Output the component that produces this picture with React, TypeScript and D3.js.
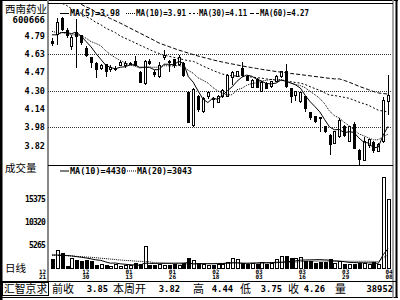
import React from "react";
import * as d3 from "d3";

// ---------- data ----------
const stockName = "西南药业";
const stockCode = "600666";
const volTitle = "成交量";
const periodLabel = "日线";
const brand = "汇智京求";

const opens = [4.745, 4.807, 4.94, 4.84, 4.70, 4.82, 4.79, 4.683, 4.595, 4.55,
  4.50, 4.533, 4.49, 4.49, 4.53, 4.525, 4.545, 4.56, 4.47, 4.37,
  4.56, 4.47, 4.435, 4.595, 4.56, 4.577, 4.533, 4.55, 4.285, 3.993,
  4.252, 4.125, 4.25, 4.24, 4.205, 4.25, 4.258, 4.418, 4.435, 4.50,
  4.43, 4.338, 4.408, 4.302, 4.37, 4.34, 4.39, 4.427, 4.471, 4.329,
  4.267, 4.214, 4.252, 4.108, 4.073, 4.064, 3.988, 3.913, 3.834, 3.90,
  3.988, 3.854, 4.002, 3.78, 3.692, 3.82, 3.85, 3.77, 3.86, 4.21];
const highs = [4.77, 4.95, 4.96, 4.86, 4.80, 4.94, 4.80, 4.70, 4.60, 4.56,
  4.54, 4.54, 4.53, 4.52, 4.57, 4.57, 4.56, 4.61, 4.48, 4.58,
  4.59, 4.49, 4.56, 4.665, 4.58, 4.59, 4.62, 4.56, 4.30, 4.33,
  4.27, 4.25, 4.30, 4.25, 4.27, 4.32, 4.45, 4.48, 4.48, 4.56,
  4.44, 4.41, 4.42, 4.39, 4.38, 4.39, 4.44, 4.48, 4.54, 4.33,
  4.30, 4.29, 4.26, 4.11, 4.08, 4.07, 3.99, 3.92, 3.95, 4.06,
  4.00, 3.99, 4.03, 3.79, 3.90, 3.88, 3.86, 3.84, 4.25, 4.44];
const lows = [4.70, 4.71, 4.83, 4.77, 4.665, 4.506, 4.71, 4.60, 4.51, 4.42,
  4.49, 4.43, 4.47, 4.48, 4.52, 4.51, 4.54, 4.52, 4.37, 4.36,
  4.53, 4.43, 4.42, 4.58, 4.47, 4.51, 4.52, 4.43, 4.02, 3.98,
  4.12, 4.11, 4.23, 4.15, 4.195, 4.24, 4.25, 4.36, 4.43, 4.43,
  4.39, 4.33, 4.33, 4.29, 4.32, 4.33, 4.38, 4.42, 4.33, 4.196,
  4.214, 4.20, 4.117, 4.05, 4.02, 3.94, 3.93, 3.737, 3.83, 3.89,
  3.90, 3.85, 3.79, 3.648, 3.68, 3.80, 3.75, 3.76, 3.84, 4.09];
const closes = [4.72, 4.913, 4.85, 4.79, 4.78, 4.785, 4.73, 4.62, 4.555, 4.49,
  4.525, 4.473, 4.51, 4.50, 4.555, 4.55, 4.55, 4.525, 4.38, 4.56,
  4.545, 4.445, 4.53, 4.62, 4.555, 4.524, 4.595, 4.444, 4.028, 4.312,
  4.135, 4.24, 4.285, 4.225, 4.258, 4.31, 4.444, 4.462, 4.471, 4.44,
  4.40, 4.395, 4.338, 4.382, 4.329, 4.385, 4.427, 4.471, 4.34, 4.252,
  4.294, 4.285, 4.15, 4.064, 4.03, 4.06, 3.942, 3.825, 3.94, 4.046,
  3.913, 3.987, 3.796, 3.698, 3.86, 3.87, 3.775, 3.825, 4.22, 4.26];
const volumes = [2000, 4100, 3400, 400, 2200, 1800, 1500, 1700, 1600, 600,
  900, 700, 400, 900, 400, 700, 600, 1200, 900, 5000,
  600, 600, 900, 700, 600, 800, 700, 1200, 2200, 1700,
  1200, 800, 700, 700, 900, 1000, 1300, 2300, 2000, 1200,
  900, 1100, 1000, 1300, 900, 1100, 2000, 2600, 2700, 2200,
  2300, 2400, 1500, 1500, 1200, 1400, 1400, 2000, 1200, 1600,
  1000, 900, 1000, 1200, 1200, 1000, 1300, 950, 20300, 15400];

// moving-average values before the window has enough history
const ma5Lead = [4.80, 4.80, 4.82, 4.82];
const ma10Lead = [4.83, 4.82, 4.82, 4.81, 4.80, 4.80, 4.79, 4.77, 4.74];
const ma30Lead = [5.13, 5.11, 5.08, 5.06, 5.03, 5.01, 4.99, 4.96, 4.94, 4.91,
  4.89, 4.86, 4.84, 4.82, 4.79, 4.77, 4.75, 4.73, 4.71, 4.69,
  4.67, 4.65, 4.635, 4.62, 4.61, 4.60, 4.59, 4.58, 4.57];
const ma60Lead = [null, null, null, null, null, null, 5.07, 5.046, 5.03, 5.00,
  4.984, 4.964, 4.944, 4.924, 4.904, 4.882, 4.86, 4.838, 4.816, 4.794,
  4.772, 4.75, 4.727, 4.711, 4.696, 4.68, 4.665, 4.652, 4.638, 4.625,
  4.612, 4.601, 4.59, 4.579, 4.568, 4.559, 4.55, 4.542, 4.533, 4.525,
  4.517, 4.51, 4.502, 4.495, 4.488, 4.482, 4.475, 4.47, 4.464, 4.458,
  4.453, 4.448, 4.442, 4.437, 4.431, 4.426, 4.42, 4.415, 4.41];
const vma10Lead = [3000, 3000, 2950, 2900, 2800, 2650, 2500, 2350, 2150];
const vma20Lead = [3000, 2950, 2900, 2850, 2800, 2700, 2650, 2550, 2500, 2400,
  2300, 2200, 2100, 2000, 1900, 1800, 1750, 1650, 1600];

const dateLabels = ["12/21", "12/30", "01/13", "01/26", "02/18", "03/03", "03/16", "03/29", "04/08"];
const priceTicks = [4.79, 4.63, 4.47, 4.30, 4.14, 3.98, 3.82];
const priceGrid = [4.63, 4.30, 3.98];
const volTicks = [15375, 10320, 5265];

const priceMaNames = ["MA(5)", "MA(10)", "MA(30)", "MA(60)"];
const priceMaValues = ["3.98", "3.91", "4.11", "4.27"];
const volMaNames = ["MA(10)", "MA(20)"];
const volMaValues = ["4430", "3043"];

const bottomLabels = ["前收", "本周开", "高", "低", "收", "量"];
const bottomValues = ["3.85", "3.82", "4.44", "3.75", "4.26", "38952"];

// ---------- layout / style ----------
const priceDash = ["", "1,1", "2,2", "4,2"];
const volDash = ["", "1,1"];
const priceLegendX = [60, 126, 189, 250];
const priceLegendW = [50, 50, 48, 49];
const volLegendX = [60, 127];
const volLegendW = [56, 55];
const bottomLabelX = [52, 113, 193, 240, 288, 335];
const bottomValueR = [108, 180, 233, 282, 325, 393];

const MONO = "'DejaVu Sans Mono', 'Liberation Mono', monospace";
const CJK = "'Noto Sans CJK SC', 'Noto Sans', sans-serif";

function movingAvg(arr: number[], p: number, lead: (number | null)[]) {
  return arr.map((_, i) =>
    i >= p - 1 ? (d3.mean(arr.slice(i - p + 1, i + 1)) as number) : lead[i] ?? null
  );
}

export default function App() {
  const n = opens.length;
  const x = d3.scaleLinear().domain([0, n - 1]).range([52, 388]);
  const y = d3.scaleLinear().domain([3.82, 4.79]).range([145.54, 35.93]);
  const yv = d3.scaleLinear().domain([0, 15375]).range([268.5, 199.5]);
  const xd = d3.scalePoint<string>().domain(dateLabels).range([42.5, 389]);

  const priceMAs = [
    movingAvg(closes, 5, ma5Lead),
    movingAvg(closes, 10, ma10Lead),
    movingAvg(closes, 30, ma30Lead),
    movingAvg(closes, 60, ma60Lead),
  ];
  const volMAs = [movingAvg(volumes, 10, vma10Lead), movingAvg(volumes, 20, vma20Lead)];

  const pLine = d3
    .line<number | null>()
    .defined((d) => d != null)
    .x((_, i) => x(i))
    .y((d) => y(d as number));
  const vLine = d3
    .line<number | null>()
    .defined((d) => d != null)
    .x((_, i) => x(i))
    .y((d) => yv(d as number));

  const px = (i: number) => Math.round(x(i)) + 0.5;

  return (
    <svg width={400} height={300} style={{ display: "block", position: "absolute", left: 0, top: 0, background: "#fff" }}>
      <defs>
        <clipPath id="pclip">
          <rect x={49} y={4} width={343} height={161} />
        </clipPath>
        <clipPath id="vclip">
          <rect x={49} y={166} width={343} height={103} />
        </clipPath>
      </defs>
      <rect x={0} y={0} width={400} height={300} fill="#fff" />

      {/* frame */}
      <rect x={0} y={0} width={2.5} height={300} fill="#000" />
      <line x1={0} x2={398} y1={0.5} y2={0.5} stroke="#000" />
      <line x1={0} x2={398} y1={297.5} y2={297.5} stroke="#000" />
      <line x1={396.5} x2={396.5} y1={0} y2={298} stroke="#000" strokeWidth={2} />
      <line x1={393} x2={393} y1={0} y2={298} stroke="#888" strokeWidth={1.5} />
      <line x1={48} x2={48} y1={0} y2={281} stroke="#888" strokeWidth={2} />
      <line x1={48} x2={393} y1={3.5} y2={3.5} stroke="#000" />
      <line x1={48} x2={393} y1={165.5} y2={165.5} stroke="#000" />
      <line x1={0} x2={397} y1={281.5} y2={281.5} stroke="#000" />

      {/* left titles */}
      <text x={5} y={12.5} fontFamily={CJK} fontSize={10.5} fill="#000">{stockName}</text>
      <text x={45} y={22.5} fontFamily={MONO} fontWeight="bold" fontSize={9} textAnchor="end" fill="#000">{stockCode}</text>
      <text x={5} y={171.5} fontFamily={CJK} fontSize={10.5} fill="#000">{volTitle}</text>
      <text x={5} y={272} fontFamily={CJK} fontSize={10.5} fill="#000">{periodLabel}</text>

      {/* price grid and ticks */}
      {priceGrid.map((v) => (
        <line key={v} x1={48} x2={392} y1={Math.round(y(v)) + 0.5} y2={Math.round(y(v)) + 0.5} stroke="#333" strokeDasharray="1,1" />
      ))}
      {priceTicks.map((v) => (
        <text key={v} x={45} y={y(v)} dy="0.35em" textAnchor="end" fontFamily={MONO} fontWeight="bold" fontSize={8.5} fill="#000">
          {v.toFixed(2)}
        </text>
      ))}
      {volTicks.map((v) => (
        <text key={v} x={45} y={yv(v)} dy="0.35em" textAnchor="end" fontFamily={MONO} fontWeight="bold" fontSize={8} letterSpacing={-0.8} fill="#000">
          {v}
        </text>
      ))}

      {/* candles */}
      <g shapeRendering="crispEdges">
        {opens.map((o, i) => {
          const c = closes[i];
          const cx = px(i);
          const up = c >= o;
          const yTop = y(Math.max(o, c));
          const yBot = y(Math.min(o, c));
          const bh = Math.max(1, yBot - yTop);
          return (
            <g key={i}>
              <line x1={cx} x2={cx} y1={y(highs[i])} y2={y(lows[i])} stroke="#000" />
              <rect x={cx - 1} y={yTop} width={2} height={bh} fill={up ? "#fff" : "#000"} stroke="#000" />
            </g>
          );
        })}
      </g>

      {/* price MAs */}
      <g clipPath="url(#pclip)" fill="none">
        {priceMAs.map((arr, k) => (
          <path key={k} d={pLine(arr) || ""} stroke="#000" strokeWidth={1} strokeDasharray={priceDash[k] || undefined} />
        ))}
      </g>

      {/* price legend */}
      {priceMaNames.map((name, k) => (
        <g key={name}>
          <line x1={priceLegendX[k]} x2={priceLegendX[k] + 9} y1={13.5} y2={13.5} stroke="#000" strokeDasharray={priceDash[k] || undefined} />
          <text x={priceLegendX[k] + 10} y={13.5} dy="0.35em" fontFamily={MONO} fontWeight="bold" fontSize={8.5}
            textLength={priceLegendW[k]} lengthAdjust="spacingAndGlyphs" fill="#000">
            {`${name}=${priceMaValues[k]}`}
          </text>
        </g>
      ))}

      {/* volume bars */}
      <g shapeRendering="crispEdges">
        {volumes.map((v, i) => {
          const cx = px(i);
          const up = closes[i] >= opens[i];
          const top = yv(v);
          return (
            <rect key={i} x={cx - 1.5} y={top} width={3} height={Math.max(1, yv(0) - top)} fill={up ? "#fff" : "#000"} stroke="#000" />
          );
        })}
      </g>

      {/* volume MAs */}
      <g clipPath="url(#vclip)" fill="none">
        {volMAs.map((arr, k) => (
          <path key={k} d={vLine(arr) || ""} stroke="#000" strokeWidth={1} strokeDasharray={volDash[k] || undefined} />
        ))}
      </g>

      {/* volume legend */}
      {volMaNames.map((name, k) => (
        <g key={name}>
          <line x1={volLegendX[k]} x2={volLegendX[k] + 9} y1={171} y2={171} stroke="#000" strokeDasharray={volDash[k] || undefined} />
          <text x={volLegendX[k] + 10} y={171} dy="0.35em" fontFamily={MONO} fontWeight="bold" fontSize={8.5}
            textLength={volLegendW[k]} lengthAdjust="spacingAndGlyphs" fill="#000">
            {`${name}=${volMaValues[k]}`}
          </text>
        </g>
      ))}

      {/* date labels */}
      {dateLabels.map((d) => {
        const [m, day] = d.split("/");
        const cx = xd(d) as number;
        return (
          <g key={d} fontFamily={MONO} fontWeight="bold" fontSize={6} textAnchor="middle" fill="#000">
            <text x={cx} y={273.5}>{m}</text>
            <text x={cx} y={279}>{day}</text>
          </g>
        );
      })}

      {/* bottom bar */}
      <rect x={2.5} y={282.5} width={46} height={13} fill="none" stroke="#000" />
      <text x={4} y={293} fontFamily={CJK} fontSize={10.8} fill="#000">{brand}</text>
      {bottomLabels.map((lab, k) => (
        <g key={lab}>
          <text x={bottomLabelX[k]} y={293} fontFamily={CJK} fontSize={11} fill="#000">{lab}</text>
          <text x={bottomValueR[k]} y={292} textAnchor="end" fontFamily={MONO} fontWeight="bold" fontSize={8.8} fill="#000">
            {bottomValues[k]}
          </text>
        </g>
      ))}
    </svg>
  );
}
